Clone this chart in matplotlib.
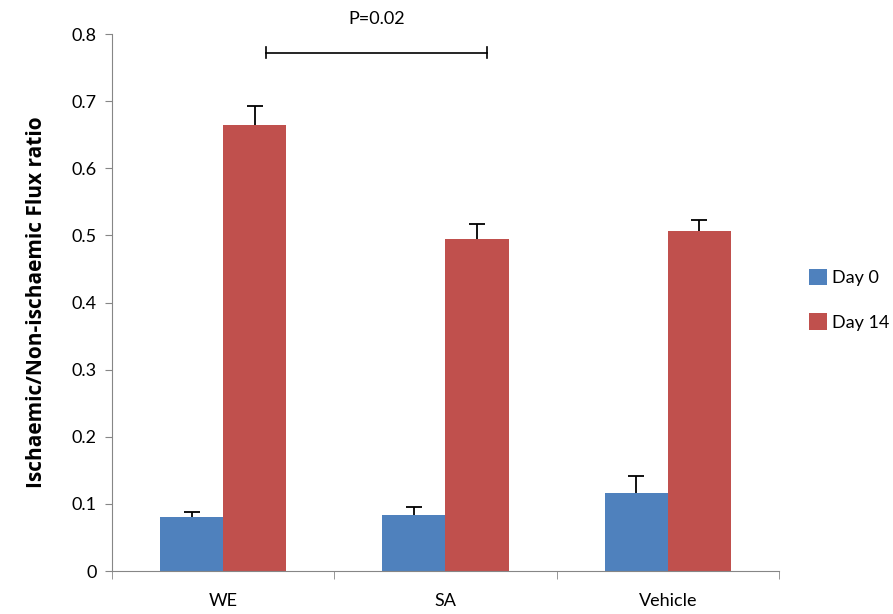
import numpy as np
import matplotlib.pyplot as plt

plt.rcParams['font.family'] = ['Lato', 'DejaVu Sans']

# data
groups = ['WE', 'SA', 'Vehicle']
day0 = [0.080, 0.083, 0.116]
day0_err = [0.008, 0.012, 0.025]
day14 = [0.665, 0.495, 0.507]
day14_err = [0.028, 0.022, 0.016]

blue = '#4F81BD'
red = '#C0504D'

fig = plt.figure(figsize=(8.93, 6.14), dpi=100)
ax = fig.add_axes([0.1254, 0.070, 0.7469, 0.8746])

x = np.arange(len(groups))
w = 0.284
ax.bar(x - w/2, day0, w, color=blue, label='Day 0')
ax.bar(x + w/2, day14, w, color=red, label='Day 14')

# plus-only error bars, cap at the top only
for xs, vals, errs in [(x - w/2, day0, day0_err), (x + w/2, day14, day14_err)]:
    top = np.array(vals) + np.array(errs)
    ax.vlines(xs, vals, top, color='black', lw=1.3, zorder=3)
    ax.plot(xs, top, ls='none', marker='_', ms=11, mew=1.3, color='black', zorder=3)

ax.set_xlim(-0.5, 2.5)
ax.set_ylim(0, 0.8)
ax.set_yticks(np.arange(0, 0.81, 0.1))
ax.set_yticklabels(['0'] + ['%.1f' % v for v in np.arange(0.1, 0.81, 0.1)])
ax.set_xticks(x)
ax.set_xticklabels(groups)
ax.set_xticks([-0.5, 0.5, 1.5, 2.5], minor=True)
ax.tick_params(axis='x', which='major', length=0, pad=16, labelsize=13)
ax.tick_params(axis='x', which='minor', length=6, color='#868686')
ax.tick_params(axis='y', length=5, color='#868686', labelsize=13, pad=6)

for s in ['top', 'right']:
    ax.spines[s].set_visible(False)
for s in ['left', 'bottom']:
    ax.spines[s].set_color('#868686')

ax.set_ylabel('Ischaemic/Non-ischaemic Flux ratio', fontsize=15,
              fontweight='bold', family=['Open Sans', 'DejaVu Sans'], labelpad=18)

# significance bracket
ax.plot([0.194, 1.185], [0.772, 0.772], color='black', lw=1.2, clip_on=False)
ax.plot([0.194, 0.194], [0.764, 0.780], color='black', lw=1.2, clip_on=False)
ax.plot([1.185, 1.185], [0.764, 0.780], color='black', lw=1.2, clip_on=False)
ax.text(0.69, 0.822, 'P=0.02', ha='center', va='center', fontsize=13, clip_on=False)

ax.legend(loc='center left', bbox_to_anchor=(1.02, 0.505), frameon=False,
          fontsize=13, handlelength=1.0, handleheight=1.0, labelspacing=1.5,
          handletextpad=0.3)

plt.savefig('out.png', dpi=100)
